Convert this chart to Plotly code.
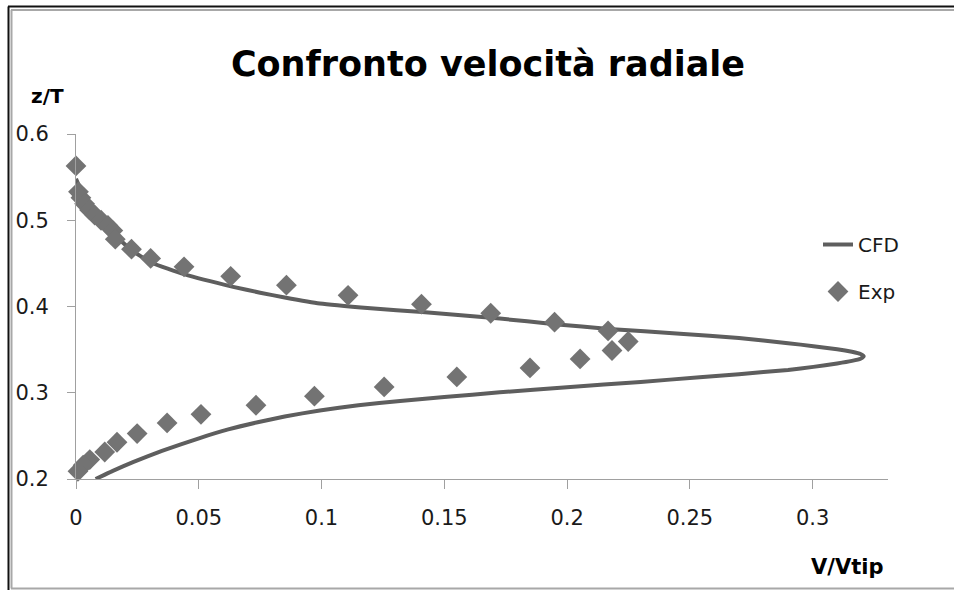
import plotly.graph_objects as go

# ---------------- data ----------------
cfd_x = [0.000, 0.002, 0.005, 0.010, 0.015, 0.023, 0.031, 0.044, 0.064, 0.075,
         0.085, 0.0993, 0.120, 0.141, 0.1726, 0.195, 0.217, 0.246, 0.270, 0.290,
         0.3003, 0.310, 0.316, 0.3195, 0.3208,
         0.3195, 0.316, 0.310, 0.3003, 0.290, 0.270, 0.254, 0.230, 0.200, 0.1726,
         0.150, 0.132, 0.115, 0.0993, 0.085, 0.0735, 0.062, 0.0504, 0.035, 0.0232,
         0.015, 0.008]
cfd_y = [0.548, 0.535, 0.519, 0.499, 0.485, 0.4645, 0.4505, 0.4375, 0.4228, 0.416,
         0.4105, 0.4035, 0.398, 0.3935, 0.386, 0.3795, 0.374, 0.3685, 0.3635, 0.3575,
         0.354, 0.3505, 0.3475, 0.345, 0.3423,
         0.3395, 0.337, 0.334, 0.330, 0.3265, 0.3215, 0.318, 0.3125, 0.3065, 0.3005,
         0.295, 0.2905, 0.2855, 0.2795, 0.2725, 0.2655, 0.2575, 0.2475, 0.2325, 0.2195,
         0.2095, 0.200]

exp_x = [0.000, 0.001, 0.002, 0.0035, 0.0055, 0.0076, 0.0102, 0.013, 0.015, 0.016,
         0.0226, 0.0304, 0.044, 0.063, 0.0857, 0.1108, 0.1407, 0.1689, 0.1949, 0.2167,
         0.2249, 0.2183, 0.2053, 0.1849, 0.1551, 0.1255, 0.0971, 0.0733, 0.0509, 0.0371,
         0.0249, 0.0167, 0.0117, 0.0056, 0.0029, 0.0008]
exp_y = [0.563, 0.533, 0.526, 0.519, 0.512, 0.506, 0.500, 0.494, 0.488, 0.478,
         0.4665, 0.4557, 0.446, 0.435, 0.4247, 0.413, 0.4027, 0.3922, 0.3818, 0.3717,
         0.3594, 0.349, 0.3392, 0.3288, 0.3183, 0.3067, 0.296, 0.2855, 0.275, 0.265,
         0.2527, 0.2426, 0.2313, 0.2225, 0.216, 0.209]

x_ticks = [0, 0.05, 0.1, 0.15, 0.2, 0.25, 0.3]
x_tick_labels = ["0", "0.05", "0.1", "0.15", "0.2", "0.25", "0.3"]
y_ticks = [0.2, 0.3, 0.4, 0.5, 0.6]
y_tick_labels = ["0.2", "0.3", "0.4", "0.5", "0.6"]

title_text = "Confronto velocità radiale"
x_title = "V/Vtip"
y_title = "z/T"
series_names = ["CFD", "Exp"]

# ---------------- layout geometry ----------------
W, H = 954, 590
ML, MR, MT, MB = 76, 66, 134, 111
PW, PH = W - ML - MR, H - MT - MB


def px_x(px):
    return (px - ML) / PW


def px_y(py):
    return (H - MB - py) / PH


FONT = "DejaVu Sans"
AXIS_GRAY = "#a0a0a0"
TEXT = "#1a1a1a"

fig = go.Figure()
fig.add_trace(go.Scatter(
    x=cfd_x, y=cfd_y, mode="lines", name=series_names[0],
    line=dict(color="#5e5e5e", width=4, shape="spline", smoothing=0.4),
    legendgroup="a",
))
fig.add_trace(go.Scatter(
    x=exp_x, y=exp_y, mode="markers", name=series_names[1],
    marker=dict(symbol="diamond", size=16, color="#737373", line=dict(width=0)),
    cliponaxis=False, legendgroup="b",
))

fig.update_layout(
    width=W, height=H,
    margin=dict(l=ML, r=MR, t=MT, b=MB, autoexpand=False),
    paper_bgcolor="white", plot_bgcolor="white",
    font=dict(family=FONT, size=21, color=TEXT),
    title=dict(text="<b>" + title_text + "</b>", x=488 / W, xanchor="center",
               y=1 - 64 / H, yanchor="middle", yref="container",
               font=dict(family=FONT, size=35, color="black")),
    showlegend=True,
    legend=dict(x=px_x(818), xanchor="left", y=px_y(225), yanchor="top",
                bgcolor="rgba(0,0,0,0)", font=dict(family=FONT, size=20, color=TEXT),
                tracegroupgap=18, itemwidth=30),
    xaxis=dict(range=[0, 0.3307], tickvals=x_ticks, ticktext=x_tick_labels,
               showgrid=False, zeroline=False, showline=True, linecolor=AXIS_GRAY,
               linewidth=1, ticks="outside", ticklen=9, tickcolor=AXIS_GRAY,
               tickwidth=1, ticklabelstandoff=11,
               tickfont=dict(family=FONT, size=21, color=TEXT)),
    yaxis=dict(range=[0.2, 0.6], tickvals=y_ticks, ticktext=y_tick_labels,
               showgrid=False, zeroline=False, showline=True, linecolor=AXIS_GRAY,
               linewidth=1, ticks="outside", ticklen=8, tickcolor=AXIS_GRAY,
               tickwidth=1, ticklabelstandoff=14,
               tickfont=dict(family=FONT, size=21, color=TEXT)),
)

# axis titles
fig.add_annotation(text="<b>" + y_title + "</b>", xref="paper", yref="paper",
                   x=px_x(47), y=px_y(96), xanchor="center", yanchor="middle",
                   showarrow=False, font=dict(family=FONT, size=20, color="black"))
fig.add_annotation(text="<b>" + x_title + "</b>", xref="paper", yref="paper",
                   x=px_x(885), y=px_y(567), xanchor="right", yanchor="middle",
                   showarrow=False, font=dict(family=FONT, size=21, color="black"))

# outer frame of the chart picture
frame = [
    (px_x(8.5), px_y(6.5), px_x(8.5), px_y(590), "#111111", 2),
    (px_x(8), px_y(6.5), px_x(954), px_y(6.5), "#111111", 2),
    (px_x(11.5), px_y(10), px_x(11.5), px_y(588.5), "#a8a8a8", 2),
    (px_x(11), px_y(10), px_x(954), px_y(10), "#a8a8a8", 2),
    (px_x(11), px_y(588.5), px_x(954), px_y(588.5), "#a8a8a8", 2),
]
for x0, y0, x1, y1, c, w in frame:
    fig.add_shape(type="line", xref="paper", yref="paper", x0=x0, y0=y0,
                  x1=x1, y1=y1, line=dict(color=c, width=w), layer="above")

fig.write_html("out.html",
               config={"displayModeBar": False},
               post_script="document.body.style.margin='0px';"
                           "document.body.style.overflow='hidden';")
